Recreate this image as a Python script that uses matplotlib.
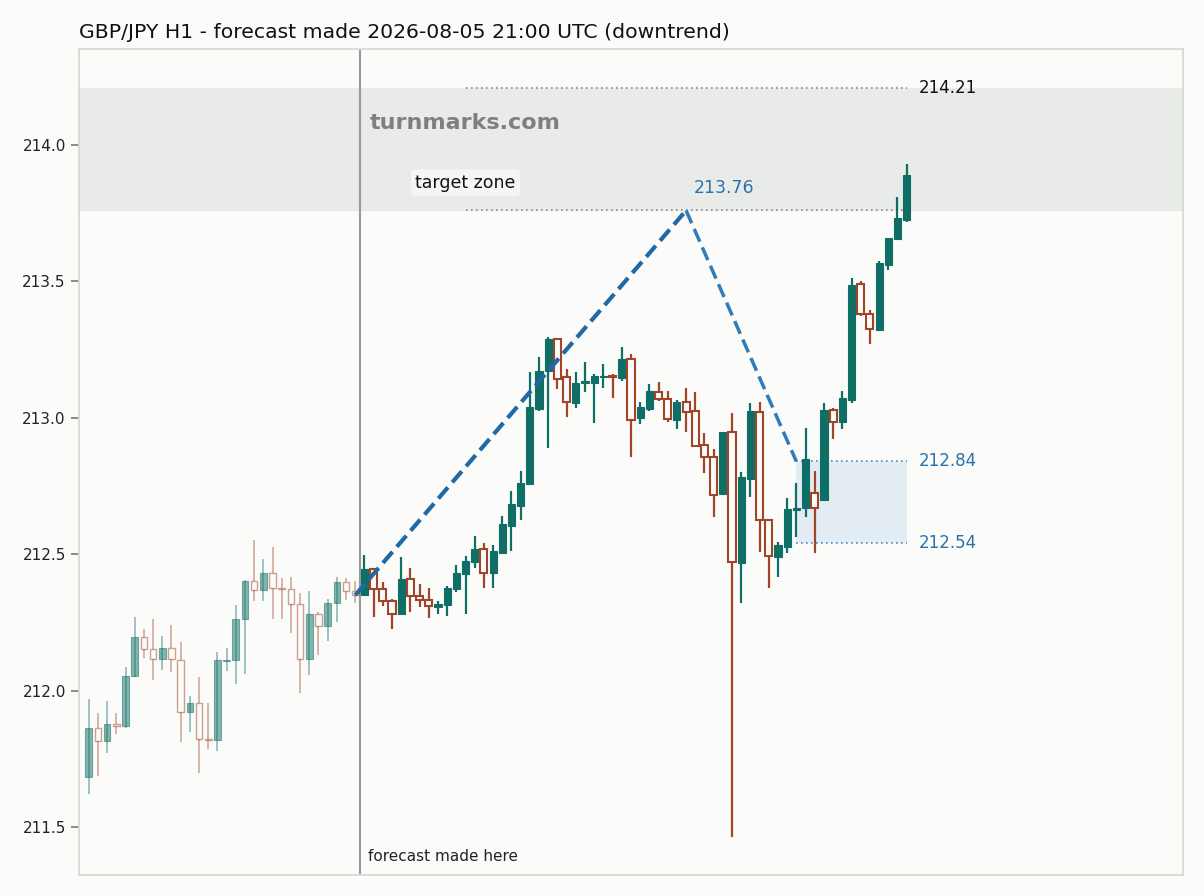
import matplotlib
matplotlib.use("Agg")
import matplotlib.pyplot as plt
import numpy as np

# ---------------- data ----------------
opens = [211.684, 211.862, 211.814, 211.876, 211.872, 212.054, 212.195, 212.151, 212.117, 212.155,
         212.113, 211.920, 211.953, 211.821, 211.818, 212.109, 212.113, 212.261, 212.403, 212.368,
         212.432, 212.375, 212.372, 212.316, 212.115, 212.280, 212.238, 212.320, 212.397, 212.365,
         212.350, 212.446, 212.371, 212.330, 212.281, 212.408, 212.347, 212.331, 212.306, 212.313,
         212.373, 212.428, 212.473, 212.518, 212.430, 212.505, 212.603, 212.678, 212.758, 213.032,
         213.172, 213.288, 213.148, 213.055, 213.127, 213.129, 213.150, 213.153, 213.147, 213.215,
         213.000, 213.032, 213.096, 213.070, 212.991, 213.057, 213.024, 212.899, 212.857, 212.720,
         212.949, 212.467, 212.777, 213.022, 212.625, 212.491, 212.525, 212.662, 212.668, 212.725,
         212.699, 213.029, 212.986, 213.065, 213.489, 213.379, 213.323, 213.561, 213.654, 213.725]
highs = [211.968, 211.919, 211.963, 211.919, 212.085, 212.271, 212.225, 212.264, 212.201, 212.239,
         212.177, 211.981, 212.049, 211.953, 212.140, 212.155, 212.314, 212.405, 212.552, 212.481,
         212.525, 212.414, 212.418, 212.359, 212.366, 212.289, 212.335, 212.415, 212.412, 212.402,
         212.497, 212.446, 212.398, 212.337, 212.490, 212.448, 212.391, 212.375, 212.328, 212.383,
         212.460, 212.493, 212.567, 212.540, 212.534, 212.640, 212.732, 212.805, 213.168, 213.224,
         213.297, 213.288, 213.179, 213.168, 213.205, 213.159, 213.197, 213.161, 213.261, 213.234,
         213.058, 213.124, 213.131, 213.098, 213.065, 213.110, 213.096, 212.944, 212.885, 212.947,
         213.016, 212.800, 213.053, 213.057, 212.625, 212.544, 212.705, 212.760, 212.961, 212.805,
         213.053, 213.035, 213.098, 213.512, 213.501, 213.395, 213.575, 213.658, 213.808, 213.930]
lows = [211.621, 211.687, 211.770, 211.840, 211.862, 212.050, 212.118, 212.039, 212.076, 212.067,
        211.810, 211.847, 211.697, 211.786, 211.779, 212.072, 212.024, 212.061, 212.328, 212.328,
        212.261, 212.261, 212.210, 211.990, 212.057, 212.130, 212.182, 212.250, 212.332, 212.322,
        212.348, 212.271, 212.311, 212.225, 212.281, 212.287, 212.308, 212.267, 212.280, 212.275,
        212.363, 212.280, 212.448, 212.375, 212.375, 212.503, 212.513, 212.625, 212.758, 213.026,
        212.890, 213.104, 213.004, 213.037, 213.096, 212.982, 213.110, 213.074, 213.136, 212.857,
        212.978, 213.026, 213.063, 212.986, 212.958, 212.947, 212.894, 212.797, 212.637, 212.720,
        211.464, 212.320, 212.709, 212.509, 212.375, 212.415, 212.505, 212.562, 212.635, 212.503,
        212.699, 212.923, 212.960, 213.055, 213.374, 213.272, 213.323, 213.542, 213.654, 213.719]
closes = [211.862, 211.814, 211.876, 211.872, 212.054, 212.195, 212.151, 212.117, 212.155, 212.115,
          211.920, 211.953, 211.821, 211.818, 212.111, 212.113, 212.261, 212.403, 212.368, 212.432,
          212.375, 212.372, 212.316, 212.115, 212.280, 212.238, 212.320, 212.397, 212.365, 212.350,
          212.446, 212.371, 212.330, 212.281, 212.408, 212.347, 212.331, 212.310, 212.317, 212.375,
          212.430, 212.474, 212.518, 212.432, 212.512, 212.611, 212.684, 212.760, 213.040, 213.172,
          213.289, 213.141, 213.057, 213.126, 213.135, 213.153, 213.153, 213.150, 213.216, 212.992,
          213.038, 213.098, 213.068, 212.995, 213.058, 213.021, 212.897, 212.856, 212.717, 212.947,
          212.470, 212.784, 213.024, 212.625, 212.493, 212.534, 212.665, 212.668, 212.848, 212.668,
          213.029, 212.986, 213.071, 213.487, 213.379, 213.326, 213.566, 213.658, 213.731, 213.890]
n_past = 30

path_x = [29, 65, 77]
path_y = [212.350, 213.76, 212.84]

target_low, target_high = 213.76, 214.21
box_low, box_high = 212.54, 212.84
box_x0, box_x1 = 77, 89
line_x0 = 41

title = "GBP/JPY H1 - forecast made 2026-08-05 21:00 UTC (downtrend)"
yticks = [211.5, 212.0, 212.5, 213.0, 213.5, 214.0]

# ---------------- style ----------------
BG = "#fbfbf9"
UP = "#0f6e66"
DOWN = "#a0442a"
BLUE = "#1f6aa5"

fig = plt.figure(figsize=(12.04, 8.96), dpi=100, facecolor=BG)
ax = fig.add_axes([79/1204, 1-875/896, (1183-79)/1204, (875-49)/896])
ax.set_facecolor(BG)

o = np.array(opens); h = np.array(highs); l = np.array(lows); c = np.array(closes)
x = np.arange(len(o))

for i in range(len(o)):
    past = i < n_past
    up = c[i] >= o[i]
    col = UP if up else DOWN
    alpha = 0.5 if past else 1.0
    wlw = 1.1 if past else 1.6
    ax.vlines(x[i], l[i], h[i], color=col, lw=wlw, alpha=alpha, zorder=3)
    bottom = min(o[i], c[i])
    height = max(abs(c[i] - o[i]), 0.004)
    width = 0.72 if past else 0.78
    if up:
        ax.bar(x[i], height, width=width, bottom=bottom, color=col, edgecolor=col,
               linewidth=0.8, alpha=alpha, zorder=4)
    else:
        ax.bar(x[i], height, width=width, bottom=bottom, color=BG, edgecolor="none", zorder=4)
        ax.bar(x[i], height, width=width, bottom=bottom, facecolor="none", edgecolor=col,
               linewidth=1.0 if past else 1.5, alpha=alpha, zorder=5)

# target zone band
ax.axhspan(target_low, target_high, color="#e9ebe8", zorder=0)
ax.hlines([target_high, target_low], line_x0, box_x1, colors="#8a8a8a", linestyles=(0, (1, 2)),
          lw=1.2, zorder=2)
ax.text(box_x1 + 1.3, target_high, "214.21", fontsize=12, color="#111111", va="center", ha="left")
ax.text(line_x0, 213.862, "target zone", fontsize=12.5, color="#111111", va="center", ha="center",
        bbox=dict(boxstyle="round,pad=0.25", fc="#f5f5f3", ec="none"), zorder=6)
ax.text(30.6, 214.08, "turnmarks.com", fontsize=16, fontweight="bold", color="#7f7f7f",
        va="center", ha="left", zorder=6)

# forecast path
ax.plot(path_x[:2], path_y[:2], color=BLUE, lw=3, ls=(0, (3.5, 1.6)), zorder=6)
ax.plot(path_x[1:], path_y[1:], color="#2f7cba", lw=2.5, ls=(0, (4, 1.8)), zorder=6)
ax.text(path_x[1] + 0.8, 213.842, "213.76", fontsize=12.5, color="#2a72ad", va="center", ha="left")

# final box
ax.fill_between([box_x0, box_x1], box_low, box_high, color="#dce7f1", alpha=0.75, zorder=1, lw=0)
ax.hlines([box_high, box_low], box_x0, box_x1, colors="#4a8cc4", linestyles=(0, (1, 2)),
          lw=1.2, zorder=2)
ax.text(box_x1 + 1.3, box_high, "212.84", fontsize=12, color="#2a72ad", va="center", ha="left")
ax.text(box_x1 + 1.3, box_low, "212.54", fontsize=12, color="#2a72ad", va="center", ha="left")

# forecast marker
ax.axvline(n_past - 0.5, color="#9a9a9a", lw=1.5, zorder=2)
ax.text(n_past + 0.4, 211.39, "forecast made here", fontsize=11, color="#222222",
        va="center", ha="left")

ax.set_xlim(-1.06, 119.07)
ax.set_ylim(211.324, 214.352)
ax.set_yticks(yticks)
ax.set_yticklabels([f"{v:.1f}" for v in yticks])
ax.set_xticks([])
ax.tick_params(axis="y", labelsize=11, colors="#777777", labelcolor="#222222", length=6, width=1.2)
for s in ax.spines.values():
    s.set_color("#d5dad5")
    s.set_linewidth(1.3)

fig.text(79/1204, 1-32/896, title, fontsize=14.7, color="#111111", va="center", ha="left")

fig.savefig("out.png", dpi=100, facecolor=BG)
